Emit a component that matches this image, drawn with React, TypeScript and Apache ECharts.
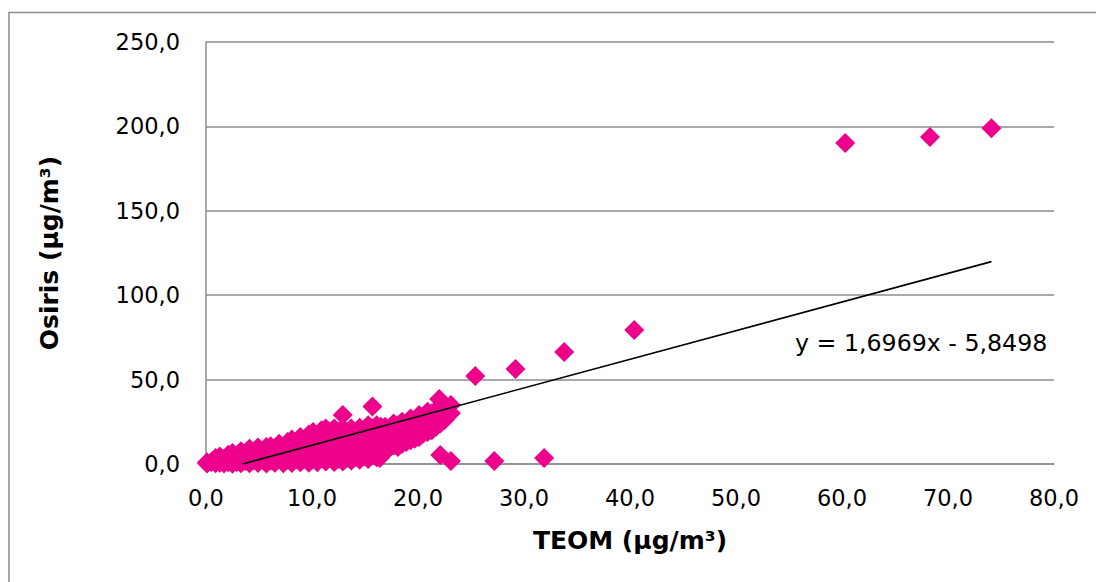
import React, { useEffect, useRef } from "react";
import * as echarts from "echarts";

// TEOM (x) vs Osiris (y), µg/m³
const clusterPoints: [number, number][] = [
  [0.1, 0.3], [0.1, 1.0], [0.5, 1.2], [0.9, 0.4], [0.9, 3.5], [1.3, 0.8], [1.3, 4.5],
  [1.7, 0.3], [1.7, 3.0], [2.1, 1.0], [2.1, 5.5], [2.5, 0.2], [2.5, 3.8], [2.5, 6.5],
  [2.9, 1.2], [2.9, 5.0], [3.3, 0.5], [3.3, 3.5], [3.3, 7.5], [3.7, 1.8], [3.7, 6.0],
  [4.1, 0.4], [4.1, 4.0], [4.1, 9.0], [4.5, 2.2], [4.5, 7.0], [4.9, 0.6], [4.9, 5.0],
  [4.9, 9.8], [5.3, 2.5], [5.3, 7.5], [5.7, 0.3], [5.7, 4.6], [5.7, 10.0], [6.1, 2.0],
  [6.1, 7.0], [6.1, 10.5], [6.5, 0.8], [6.5, 5.0], [6.9, 3.0], [6.9, 8.5], [6.9, 12.0],
  [7.3, 0.5], [7.3, 5.8], [7.3, 10.0], [7.7, 2.5], [7.7, 8.0], [7.7, 13.0], [8.1, 0.6],
  [8.1, 5.0], [8.1, 11.0], [8.1, 14.5], [8.5, 3.0], [8.5, 8.0], [8.5, 13.0], [8.9, 1.0],
  [8.9, 6.0], [8.9, 10.5], [8.9, 16.0], [9.3, 3.5], [9.3, 9.0], [9.3, 13.5], [9.7, 0.7],
  [9.7, 6.5], [9.7, 12.0], [9.7, 17.5], [10.1, 3.0], [10.1, 9.5], [10.1, 15.0], [10.1, 19.0],
  [10.5, 1.0], [10.5, 6.0], [10.5, 12.5], [10.5, 17.0], [10.9, 4.0], [10.9, 9.0], [10.9, 14.0],
  [10.9, 20.0], [11.3, 1.5], [11.3, 7.0], [11.3, 12.0], [11.3, 17.0], [11.3, 21.0], [11.7, 3.5],
  [11.7, 10.0], [11.7, 15.0], [11.7, 19.0], [12.1, 1.2], [12.1, 6.0], [12.1, 12.0], [12.1, 17.0],
  [12.1, 21.0], [12.5, 3.0], [12.5, 9.0], [12.5, 14.5], [12.5, 19.0], [12.9, 1.5], [12.9, 6.5],
  [12.9, 11.5], [12.9, 16.5], [12.9, 21.0], [12.9, 29.0], [13.3, 3.5], [13.3, 9.0], [13.3, 14.0],
  [13.3, 19.0], [13.7, 2.0], [13.7, 6.5], [13.7, 12.0], [13.7, 16.5], [13.7, 21.0], [14.1, 4.0],
  [14.1, 9.5], [14.1, 14.5], [14.1, 19.0], [14.5, 2.5], [14.5, 7.0], [14.5, 12.0], [14.5, 17.0],
  [14.5, 21.5], [14.9, 4.5], [14.9, 10.0], [14.9, 15.0], [14.9, 20.0], [15.3, 3.0], [15.3, 8.0],
  [15.3, 13.0], [15.3, 18.0], [15.3, 23.0], [15.7, 5.0], [15.7, 11.0], [15.7, 16.0], [15.7, 21.0],
  [15.7, 34.0], [16.1, 4.0], [16.1, 8.5], [16.1, 14.0], [16.1, 19.0], [16.1, 23.0], [16.4, 3.5],
  [16.5, 6.0], [16.5, 11.5], [16.5, 17.0], [16.5, 22.0], [16.9, 8.0], [16.9, 13.0], [16.9, 18.0],
  [16.9, 22.0], [17.3, 9.5], [17.3, 15.0], [17.3, 20.0], [17.7, 11.0], [17.7, 16.0], [17.7, 21.0],
  [17.7, 24.0], [18.1, 10.0], [18.1, 14.0], [18.1, 19.0], [18.1, 23.0], [18.5, 12.0], [18.5, 17.0],
  [18.5, 22.0], [18.5, 25.0], [18.9, 13.0], [18.9, 18.0], [18.9, 23.0], [19.3, 14.0], [19.3, 19.0],
  [19.3, 24.0], [19.3, 27.0], [19.7, 15.0], [19.7, 20.0], [19.7, 25.0], [20.1, 16.0], [20.1, 21.0],
  [20.1, 26.0], [20.1, 29.0], [20.5, 18.0], [20.5, 23.0], [20.5, 28.0], [20.9, 19.0], [20.9, 24.0],
  [20.9, 29.0], [20.9, 31.0], [21.3, 20.0], [21.3, 25.0], [21.3, 30.0], [21.7, 22.0], [21.7, 27.0],
  [21.7, 32.0], [22.0, 38.5], [22.1, 24.0], [22.1, 29.0], [22.1, 33.0], [22.5, 26.0], [22.5, 31.0],
  [23.1, 30.0], [23.1, 35.0],
];
const lowPoints: [number, number][] = [
  [22.1, 5.3], [23.1, 1.8], [27.2, 1.8], [31.9, 3.6],
];
const outlierPoints: [number, number][] = [
  [25.4, 52.1], [29.2, 56.3], [33.8, 66.4], [40.4, 79.4],
  [60.3, 190.2], [68.3, 193.7], [74.1, 198.9],
];
const slope = 1.6969;
const intercept = -5.8498;
const equationText = "y = 1,6969x - 5,8498";
const xTitle = "TEOM (µg/m³)";
const yTitle = "Osiris (µg/m³)";

const FONT = "'DejaVu Sans', Verdana, sans-serif";
const fmt = (v: number) => v.toFixed(1).replace(".", ",");

export default function App() {
  const ref = useRef<HTMLDivElement>(null);
  useEffect(() => {
    if (!ref.current) return;
    const chart = echarts.init(ref.current, undefined, { renderer: "svg" });
    const all = [...clusterPoints, ...lowPoints, ...outlierPoints];
    const xs = all.map((p) => p[0]);
    const xMax = Math.max(...xs);
    const xStart = -intercept / slope; // where trendline meets y = 0
    const trend: [number, number][] = [
      [xStart, 0],
      [xMax, slope * xMax + intercept],
    ];
    chart.setOption({
      animation: false,
      grid: { left: 206, right: 42, top: 42, bottom: 118, containLabel: false },
      xAxis: {
        type: "value",
        min: 0,
        max: 80,
        interval: 10,
        name: xTitle,
        nameLocation: "middle",
        nameGap: 64,
        nameTextStyle: { fontFamily: FONT, fontWeight: "bold", fontSize: 25, color: "#000" },
        axisLine: { show: true, onZero: false, lineStyle: { color: "#8c8c8c", width: 1.5 } },
        axisTick: { show: false },
        splitLine: { show: false },
        axisLabel: { formatter: fmt, fontFamily: FONT, fontSize: 22.5, color: "#000", margin: 22 },
      },
      yAxis: {
        type: "value",
        min: 0,
        max: 250,
        interval: 50,
        name: yTitle,
        nameLocation: "middle",
        nameGap: 144,
        nameTextStyle: { fontFamily: FONT, fontWeight: "bold", fontSize: 25, color: "#000" },
        axisLine: { show: true, lineStyle: { color: "#8c8c8c", width: 1.5 } },
        axisTick: { show: false },
        splitLine: { show: true, lineStyle: { color: "#8c8c8c", width: 1.5 } },
        axisLabel: { formatter: fmt, fontFamily: FONT, fontSize: 22.5, color: "#000", margin: 26 },
      },
      series: [
        {
          type: "scatter",
          symbol: "diamond",
          symbolSize: 20,
          itemStyle: { color: "#EC008C", opacity: 1 },
          data: all,
          z: 2,
        },
        {
          type: "line",
          data: trend,
          symbol: "none",
          lineStyle: { color: "#000", width: 1.6 },
          z: 3,
        },
      ],
      graphic: [
        {
          type: "rect",
          shape: { x: 9, y: 12.5, width: 2000, height: 2000 },
          style: { fill: "none", stroke: "#8c8c8c", lineWidth: 1.5 },
          silent: true,
        },
        {
          type: "text",
          left: 795,
          top: 331,
          style: { text: equationText, font: `23.7px ${FONT}`, fill: "#000" },
        },
      ],
    });
    return () => chart.dispose();
  }, []);
  return (
    <div
      ref={ref}
      style={{ position: "fixed", left: 0, top: 0, width: 1096, height: 582, background: "#fff" }}
    />
  );
}
